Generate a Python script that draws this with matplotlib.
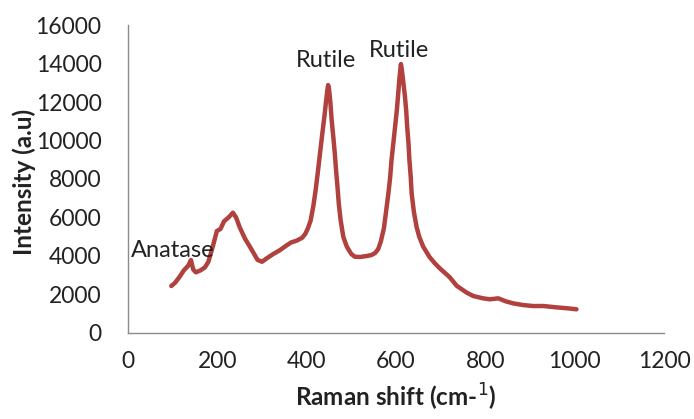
import matplotlib
matplotlib.use("Agg")
import matplotlib.pyplot as plt

raman_shift = [97, 105, 115, 125, 135, 141, 146, 152, 162, 172, 180, 190, 199, 207, 215,
               225, 235, 242, 250, 262, 275, 290, 300, 312, 325, 340, 355, 365, 378, 390,
               397, 403, 409, 415, 420, 425, 430, 435, 440, 443, 446, 448, 450, 453, 456,
               460, 463, 466, 469, 472, 476, 482, 490, 500, 508, 520, 535, 545, 553, 560,
               566, 573, 578, 583, 587, 590, 594, 598, 602, 605, 608, 611, 613, 616, 620,
               623, 625, 628, 630, 633, 635, 640, 646, 652, 661, 675, 687, 698, 720, 736,
               758, 773, 795, 810, 829, 845, 862, 885, 907, 930, 960, 985, 1004]
intensity = [2440, 2600, 2900, 3250, 3500, 3790, 3300, 3150, 3250, 3400, 3700, 4500, 5300, 5400, 5800,
             6000, 6250, 6000, 5500, 4900, 4400, 3800, 3700, 3900, 4100, 4300, 4550, 4700, 4800, 4950,
             5150, 5450, 5850, 6600, 7400, 8350, 9350, 10350, 11300, 11950, 12550, 12880, 12700, 12000, 11060,
             10100, 9330, 8400, 7600, 6700, 5870, 5000, 4480, 4100, 3960, 3950, 4000, 4050, 4150, 4350,
             4750, 5450, 6350, 7260, 8100, 8990, 9850, 10720, 11600, 12450, 13300, 13970, 13700, 13100, 12300,
             11500, 10720, 9850, 8990, 8100, 7260, 6300, 5520, 5000, 4480, 3950, 3620, 3360, 2900, 2450,
             2100, 1920, 1800, 1750, 1800, 1650, 1540, 1450, 1400, 1400, 1330, 1280, 1230]

annotations = [("Anatase", 100, 4310), ("Rutile", 443, 14145), ("Rutile", 606, 14700)]
x_ticks = [0, 200, 400, 600, 800, 1000, 1200]
y_ticks = [0, 2000, 4000, 6000, 8000, 10000, 12000, 14000, 16000]

plt.rcParams['font.family'] = ['Lato', 'DejaVu Sans']

fig = plt.figure(figsize=(6.94, 4.19), dpi=100)
ax = fig.add_axes([0.1844, 0.2053, 0.7724, 0.735])
ax.plot(raman_shift, intensity, color='#b0413e', linewidth=3.2, solid_capstyle='round',
        solid_joinstyle='round')

for txt, x, y in annotations:
    ax.text(x, y, txt, ha='center', va='center', fontsize=17, color='#222222')

ax.set_xlim(0, 1200)
ax.set_ylim(0, 16000)
ax.set_xticks(x_ticks)
ax.set_yticks(y_ticks)
ax.tick_params(axis='both', length=0, labelsize=16.5, colors='#222222')
ax.tick_params(axis='y', pad=19)
ax.tick_params(axis='x', pad=13)
for s in ['top', 'right']:
    ax.spines[s].set_visible(False)
for s in ['left', 'bottom']:
    ax.spines[s].set_color('#8c8c8c')
    ax.spines[s].set_linewidth(1.0)

ax.set_xlabel('Raman shift (cm-$^{1}$)', fontsize=17.5, fontweight='bold', color='#222222', labelpad=7)
ax.set_ylabel('Intensity (a.u)', fontsize=17.5, fontweight='bold', color='#222222')
ax.yaxis.set_label_coords(-0.172, 0.49)

fig.savefig('out.png', dpi=100)
